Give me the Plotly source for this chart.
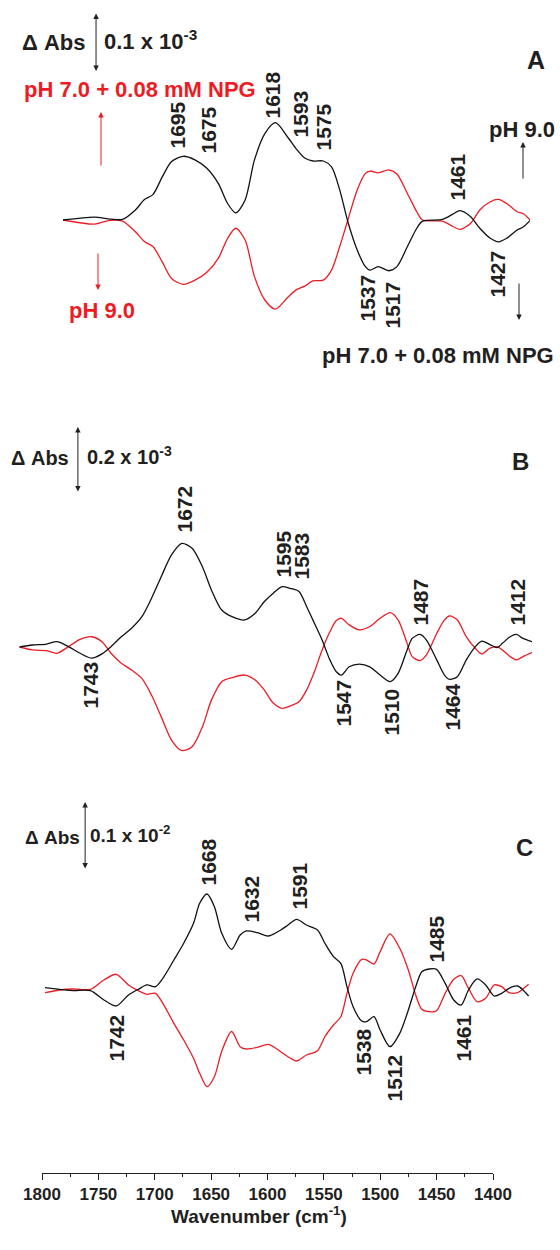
import plotly.graph_objects as go

# ---------------- data (ΔAbs in units of 10^-3) ----------------
a_wn = [1800, 1773, 1761, 1749, 1738, 1730, 1723, 1715, 1707, 1697, 1687, 1677, 1667, 1659,
        1652, 1644, 1636, 1627, 1618, 1607, 1600, 1593, 1586, 1577, 1570, 1563, 1556, 1548,
        1541, 1537, 1530, 1521, 1514, 1505, 1497, 1492, 1475, 1466, 1460, 1451, 1443, 1434,
        1427, 1420, 1411, 1406, 1400]
a_black = [0, 0.005, 0.002, 0.001, 0.017, 0.035, 0.043, 0.073, 0.099, 0.108, 0.102, 0.088, 0.062, 0.028,
           0.012, 0.034, 0.102, 0.147, 0.165, 0.139, 0.120, 0.105, 0.100, 0.100, 0.090, 0.051, -0.003, -0.051,
           -0.079, -0.085, -0.079, -0.086, -0.079, -0.045, -0.014, -0.002, 0.001, 0.010, 0.016, 0.006, -0.014, -0.031,
           -0.037, -0.031, -0.017, -0.012, -0.001]
a_red = [0, -0.007, -0.001, -0.002, -0.020, -0.037, -0.045, -0.071, -0.099, -0.109, -0.102, -0.089, -0.065, -0.031,
         -0.014, -0.034, -0.096, -0.136, -0.151, -0.130, -0.118, -0.112, -0.103, -0.102, -0.085, -0.045, 0.000, 0.051,
         0.079, 0.083, 0.080, 0.085, 0.078, 0.045, 0.014, 0.000, -0.002, -0.011, -0.016, -0.006, 0.017, 0.031,
         0.035, 0.028, 0.014, 0.011, 0.000]

b_wn = [1798, 1788, 1777, 1769, 1760, 1751, 1742, 1734, 1727, 1719, 1711, 1703, 1695, 1688, 1680,
        1672, 1664, 1656, 1649, 1641, 1633, 1623, 1615, 1608, 1601, 1594, 1588, 1581, 1575, 1569,
        1563, 1557, 1552, 1548, 1542, 1534, 1526, 1518, 1510, 1504, 1497, 1493, 1487, 1482, 1474,
        1468, 1464, 1458, 1451, 1444, 1439, 1433, 1427, 1423, 1417, 1412, 1407, 1400]
b_black = [0, 0.006, 0.009, 0.016, 0.001, -0.019, -0.034, -0.021, 0.001, 0.031, 0.057, 0.092, 0.152, 0.213, 0.279,
           0.314, 0.299, 0.243, 0.173, 0.112, 0.092, 0.082, 0.102, 0.137, 0.163, 0.183, 0.178, 0.168, 0.122, 0.072,
           0.021, -0.039, -0.075, -0.085, -0.060, -0.052, -0.060, -0.085, -0.105, -0.080, -0.009, 0.026, 0.038, 0.021, -0.039,
           -0.085, -0.098, -0.090, -0.039, 0.001, 0.018, 0.008, -0.002, 0.011, 0.031, 0.038, 0.026, 0.016]
b_red = [0, -0.009, -0.011, -0.019, 0.001, 0.023, 0.031, 0.016, -0.019, -0.049, -0.070, -0.095, -0.150, -0.211, -0.282,
         -0.314, -0.302, -0.242, -0.161, -0.105, -0.093, -0.085, -0.100, -0.130, -0.170, -0.186, -0.179, -0.166, -0.130, -0.075,
         -0.009, 0.046, 0.080, 0.087, 0.067, 0.052, 0.062, 0.087, 0.104, 0.082, 0.011, -0.029, -0.041, -0.024, 0.041,
         0.082, 0.094, 0.082, 0.031, -0.004, -0.021, -0.004, 0.001, -0.009, -0.029, -0.039, -0.029, -0.017]

c_wn = [1800, 1788, 1777, 1763, 1752, 1742, 1732, 1724, 1717, 1710, 1704, 1695, 1687, 1679, 1674,
        1668, 1662, 1656, 1648, 1641, 1636, 1627, 1618, 1608, 1602, 1595, 1587, 1578, 1572, 1565,
        1559, 1554, 1549, 1542, 1538, 1532, 1527, 1519, 1511, 1504, 1498, 1493, 1487, 1481, 1474,
        1467, 1461, 1455, 1448, 1441, 1434, 1428, 1422, 1415, 1410, 1406]
c_black = [0.034, 0.010, -0.010, -0.010, -0.147, -0.235, -0.074, 0.010, 0.074, 0.049, 0.172, 0.441, 0.687, 0.980, 1.275,
           1.412, 1.225, 0.833, 0.598, 0.809, 0.868, 0.843, 0.794, 0.882, 0.956, 1.040, 0.956, 0.882, 0.687, 0.490,
           0.392, 0.049, -0.246, -0.456, -0.466, -0.392, -0.588, -0.834, -0.637, -0.294, 0.049, 0.269, 0.309, 0.304, 0.098,
           -0.147, -0.221, 0.000, 0.162, 0.074, -0.088, -0.049, 0.025, 0.059, -0.010, -0.088]
c_red = [-0.040, 0.000, 0.015, 0.010, 0.147, 0.231, 0.074, -0.010, -0.063, -0.049, -0.196, -0.490, -0.735, -1.005, -1.225,
         -1.422, -1.275, -0.900, -0.610, -0.834, -0.868, -0.843, -0.799, -0.907, -0.981, -1.044, -0.956, -0.893, -0.687, -0.515,
         -0.393, -0.049, 0.245, 0.451, 0.441, 0.382, 0.563, 0.824, 0.613, 0.294, -0.074, -0.284, -0.319, -0.304, -0.049,
         0.157, 0.210, 0.025, -0.172, -0.122, 0.074, 0.049, -0.040, -0.040, 0.025, 0.084]

a_labels_up = ['1695', '1675', '1618', '1593', '1575', '1461']
a_labels_down = ['1537', '1517', '1427']
b_labels_up = ['1672', '1595', '1583', '1487', '1412']
b_labels_down = ['1743', '1547', '1510', '1464']
c_labels_up = ['1668', '1632', '1591', '1485']
c_labels_down = ['1742', '1538', '1512', '1461']

axis_ticks = [1800, 1750, 1700, 1650, 1600, 1550, 1500, 1450, 1400]

# ---------------- styling / layout ----------------
W, H = 560, 1250
BLACK = '#231f20'
RED = '#ed1c24'
FONT = 'Liberation Sans, Arial, Helvetica, sans-serif'


def px(x):
    return x / W


def py(y):
    return 1 - y / H


panels = [
    dict(wn=a_wn, black=a_black, red=a_red, xdom=(63, 530), ydom=(0, 440), scale=590),
    dict(wn=b_wn, black=b_black, red=b_red, xdom=(17, 532), ydom=(412, 882), scale=330),
    dict(wn=c_wn, black=c_black, red=c_red, xdom=(45, 536), ydom=(790, 1190), scale=68),
]

fig = go.Figure()
layout_axes = {}
for i, p in enumerate(panels, start=1):
    suffix = '' if i == 1 else str(i)
    xa, ya = 'x' + suffix, 'y' + suffix
    fig.add_trace(go.Scatter(x=p['wn'], y=p['red'], mode='lines', xaxis=xa, yaxis=ya,
                             line=dict(color=RED, width=1.3, shape='spline', smoothing=0.8),
                             showlegend=False, hoverinfo='skip'))
    fig.add_trace(go.Scatter(x=p['wn'], y=p['black'], mode='lines', xaxis=xa, yaxis=ya,
                             line=dict(color='#111111', width=1.3, shape='spline', smoothing=0.8),
                             showlegend=False, hoverinfo='skip'))
    half = (p['ydom'][1] - p['ydom'][0]) / 2 / p['scale']
    layout_axes['xaxis' + suffix] = dict(domain=[px(p['xdom'][0]), px(p['xdom'][1])], range=[1800, 1400],
                                         visible=False, anchor=ya, automargin=False)
    layout_axes['yaxis' + suffix] = dict(domain=[py(p['ydom'][1]), py(p['ydom'][0])], range=[-half, half],
                                         visible=False, anchor=xa, automargin=False)

# bottom wavenumber axis
layout_axes['xaxis4'] = dict(domain=[px(42), px(493)], range=[1800, 1400], anchor='y4', automargin=False,
                             showline=True, linecolor=BLACK, linewidth=1, ticks='outside', ticklen=6,
                             tickwidth=1, tickcolor=BLACK, tickvals=axis_ticks,
                             ticktext=[str(t) for t in axis_ticks],
                             minor=dict(ticks='outside', ticklen=3, dtick=25, tick0=1400, tickcolor=BLACK),
                             tickfont=dict(family=FONT, size=17, color=BLACK, weight='bold'),
                             showgrid=False, zeroline=False)
layout_axes['yaxis4'] = dict(domain=[py(1173), py(1173) + 0.004], visible=False, anchor='x4',
                             range=[0, 1], automargin=False)
fig.add_trace(go.Scatter(x=[1800, 1400], y=[None, None], xaxis='x4', yaxis='y4', mode='lines',
                         showlegend=False, hoverinfo='skip'))

ann = []


def text(t, x, y, xanchor='center', yanchor='middle', size=21, color=BLACK, angle=0):
    ann.append(dict(text='<b>' + t + '</b>', x=px(x), y=py(y), xref='paper', yref='paper',
                    xanchor=xanchor, yanchor=yanchor, showarrow=False, textangle=angle,
                    font=dict(family=FONT, size=size, color=color)))


def arrow(x, y, dy, color=BLACK):
    ann.append(dict(text='', x=px(x), y=py(y), xref='paper', yref='paper', ax=0, ay=dy,
                    showarrow=True, arrowhead=2, arrowsize=1.1, arrowwidth=1, arrowcolor=color))


def scalebar(xref, yref, x, ytop, span):
    ann.append(dict(text='', x=x, y=ytop, ax=x, ay=ytop - span, xref=xref, yref=yref, axref=xref, ayref=yref,
                    showarrow=True, arrowhead=2, startarrowhead=2, arrowside='end+start',
                    arrowsize=1.1, arrowwidth=1, arrowcolor=BLACK))


# panel A
scalebar('x', 'y', 1771.7, 0.35, 0.1)
text('Δ Abs', 88, 43, xanchor='right', size=22)
text('0.1 x 10<sup>-3</sup>', 102, 40, xanchor='left', size=22)
text('pH 7.0 + 0.08 mM NPG', 22, 90, xanchor='left', color=RED, size=22)
arrow(101, 112, 55, RED)
arrow(98, 290, -38, RED)
text('pH 9.0', 102, 310, color=RED, size=22)
text('pH 9.0', 487, 130, xanchor='left', size=22)
arrow(523, 142, 38)
arrow(519, 320, -38)
text('pH 7.0 + 0.08 mM NPG', 556, 355, xanchor='right', size=22)
text('A', 536, 60, size=25)
for t, x, y in zip(a_labels_up, [177, 208, 272, 300, 323, 457], [151, 156, 121, 140, 153, 203]):
    text(t, x, y, yanchor='bottom', size=21, angle=-90)
for t, x, y in zip(a_labels_down, [367, 392, 497], [273, 280, 249]):
    text(t, x, y, yanchor='top', size=21, angle=-90)

# panel B
scalebar('x2', 'y2', 1752.7, 0.667, 0.2)
text('Δ Abs', 71, 458, xanchor='right', size=20)
text('0.2 x 10<sup>-3</sup>', 85, 455, xanchor='left', size=20)
text('B', 520, 461, size=24)
for t, x, y in zip(b_labels_up, [184, 283, 301, 420, 517], [535, 580, 582, 628, 628]):
    text(t, x, y, yanchor='bottom', size=21, angle=-90)
for t, x, y in zip(b_labels_down, [90, 343, 391, 452], [660, 678, 687, 682]):
    text(t, x, y, yanchor='top', size=21, angle=-90)

# panel C
scalebar('x3', 'y3', 1767.3, 2.765, 1.0)
text('Δ Abs', 82, 837, xanchor='right', size=19)
text('0.1 x 10<sup>-2</sup>', 88, 834, xanchor='left', size=19)
text('C', 524, 847, size=24)
for t, x, y in zip(c_labels_up, [208, 251, 299, 436], [888, 925, 912, 965]):
    text(t, x, y, yanchor='bottom', size=21, angle=-90)
for t, x, y in zip(c_labels_down, [116, 363, 394, 463], [1013, 1027, 1053, 1013]):
    text(t, x, y, yanchor='top', size=21, angle=-90)

# axis title
text('Wavenumber (cm<sup>-1</sup>)', 259, 1215, size=19)

fig.update_layout(width=W, height=H, margin=dict(l=0, r=0, t=0, b=0, pad=0), autosize=False,
                  template='none', font=dict(family=FONT, color=BLACK),
                  paper_bgcolor='white', plot_bgcolor='rgba(0,0,0,0)',
                  annotations=ann, showlegend=False, **layout_axes)

fig.write_html('out.html', config={'displayModeBar': False, 'staticPlot': True},
               post_script="document.body.style.margin='0';document.body.style.overflow='hidden';")
